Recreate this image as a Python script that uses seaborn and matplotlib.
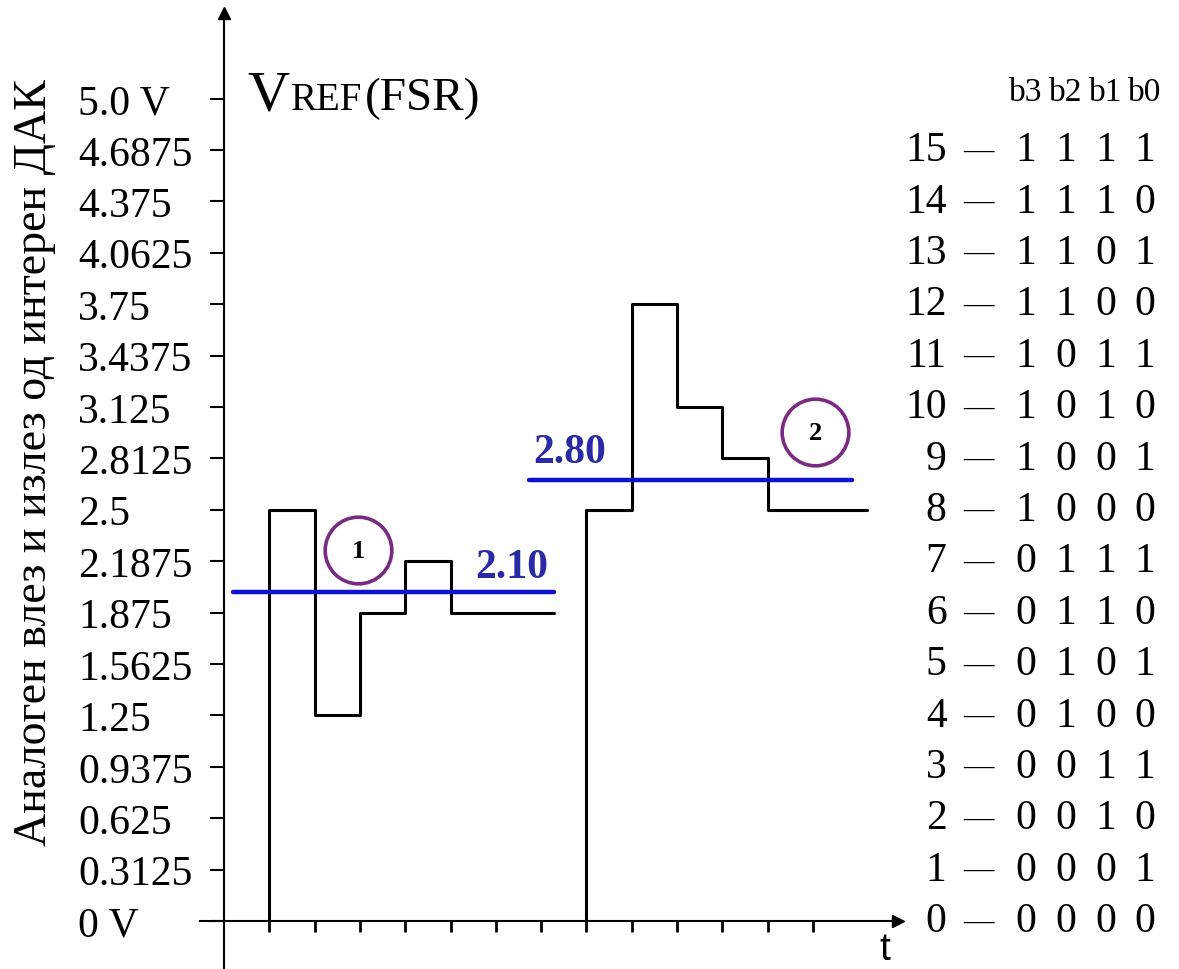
import numpy as np
import pandas as pd
import matplotlib
matplotlib.use("Agg")
import matplotlib.pyplot as plt
import seaborn as sns

# ниво на ЛСБ и ознаки на y оската
lsb = 0.3125
codes = list(range(16))
bits = [format(c, "04b") for c in codes]
ytick_vals = [i * lsb for i in range(17)]
ytick_labels = ['0 V', '0.3125', '0.625', '0.9375', '1.25', '1.5625', '1.875', '2.1875',
                '2.5', '2.8125', '3.125', '3.4375', '3.75', '4.0625', '4.375', '4.6875', '5.0 V']
xtick_vals = list(range(1, 14))

# излез од ДАК (степенести сигнали)
t1 = [1, 1, 2, 3, 4, 5, 7.28]
v1 = [0, 2.5, 1.25, 1.875, 2.1875, 1.875, 1.875]
t2 = [8, 8, 9, 10, 11, 12, 14.2]
v2 = [0, 2.5, 3.75, 3.125, 2.8125, 2.5, 2.5]

# аналоген влез
vin_levels = [2.0, 2.68]
vin_start = [0.2, 6.73]
vin_end = [7.28, 13.86]
vin_labels = ['2.10', '2.80']
vin_label_pos = [(6.36, 2.15), (7.64, 2.85)]
circle_pos = [(2.96, 2.255), (13.05, 2.97)]
circle_txt = ['1', '2']

sns.set_style("white")
plt.rcParams['font.family'] = ['Liberation Serif', 'DejaVu Serif']
plt.rcParams['text.color'] = 'black'
plt.rcParams['xtick.color'] = 'black'
plt.rcParams['ytick.color'] = 'black'

fig = plt.figure(figsize=(11.79, 9.70), dpi=100)
ax = fig.add_axes([0, 0, 1, 1])
ax.set_xlim(-4.945, 21.08)
ax.set_ylim(-0.292, 5.605)

# оски
for s in ['top', 'right']:
    ax.spines[s].set_visible(False)
ax.spines['left'].set_position(('data', 0))
ax.spines['bottom'].set_position(('data', 0))
ax.spines['left'].set_bounds(-0.292, 5.50)
ax.spines['bottom'].set_bounds(-0.53, 14.85)
for s in ['left', 'bottom']:
    ax.spines[s].set_color('black')
    ax.spines[s].set_linewidth(1.5)
ax.plot(0, 5.52, marker='^', color='black', markersize=9, clip_on=False)
ax.plot(14.88, 0, marker='>', color='black', markersize=9, clip_on=False)

ax.set_yticks(ytick_vals)
ax.set_yticklabels(ytick_labels, fontsize=30, color='black')
for lab in ax.get_yticklabels():
    lab.set_horizontalalignment('left')
ax.tick_params(axis='y', left=True, direction='out', length=10, width=1.5, pad=95,
               colors='black')
ax.set_xticks(xtick_vals)
ax.set_xticklabels([])
ax.tick_params(axis='x', bottom=True, direction='out', length=8, width=2, colors='black')

# степенести сигнали
df1 = pd.DataFrame({'t': t1, 'v': v1})
df2 = pd.DataFrame({'t': t2, 'v': v2})
for d in [df1, df2]:
    sns.lineplot(data=d, x='t', y='v', ax=ax, estimator=None, sort=False,
                 drawstyle='steps-post', color='black', linewidth=2.2, legend=False)

# нивоа на аналоген влез
for lv, a, b, lab, (lx, ly) in zip(vin_levels, vin_start, vin_end, vin_labels, vin_label_pos):
    dfv = pd.DataFrame({'t': [a, b], 'v': [lv, lv]})
    sns.lineplot(data=dfv, x='t', y='v', ax=ax, estimator=None, sort=False,
                 color='#1010d0', linewidth=3.2, legend=False)
    ax.text(lx, ly, lab, color='#2a2aa6', fontsize=30, fontweight='bold',
            ha='center', va='center')

for (cx, cy), txt in zip(circle_pos, circle_txt):
    ax.plot(cx, cy, marker='o', markersize=48, markerfacecolor='none',
            markeredgecolor='#7a2a80', markeredgewidth=2.6)
    ax.text(cx, cy, txt, fontsize=19, fontweight='bold', ha='center', va='center')

# наслов VREF (FSR)
ax.text(0.51, 4.936, 'V', fontsize=42, ha='left', va='baseline')
ax.text(1.48, 4.936, 'REF', fontsize=28, ha='left', va='baseline')
ax.text(3.12, 4.936, '(FSR)', fontsize=34, ha='left', va='baseline')

ax.text(14.59, -0.17, 't', fontsize=28, ha='center', va='center',
        family=['Liberation Sans', 'DejaVu Sans'])

# табела со кодови
bit_x = [17.69, 18.59, 19.47, 20.33]
for i, h in enumerate(['b3', 'b2', 'b1', 'b0']):
    ax.text(bit_x[i], 5.04, h, fontsize=24, ha='center', va='center')
for c, b in zip(codes, bits):
    yv = c * lsb
    ax.text(15.95, yv, str(c), fontsize=30, ha='right', va='center')
    ax.text(16.65, yv, '\u2014', fontsize=22, ha='center', va='center')
    for i, ch in enumerate(b):
        ax.text(bit_x[i], yv, ch, fontsize=30, ha='center', va='center')

ax.text(-4.17, 2.79, 'Аналоген влез и излез од интерен ДАК', fontsize=33,
        rotation=90, ha='center', va='center')

ax.set_xlabel('')
ax.set_ylabel('')
fig.savefig('out.png', dpi=100, facecolor='white')
